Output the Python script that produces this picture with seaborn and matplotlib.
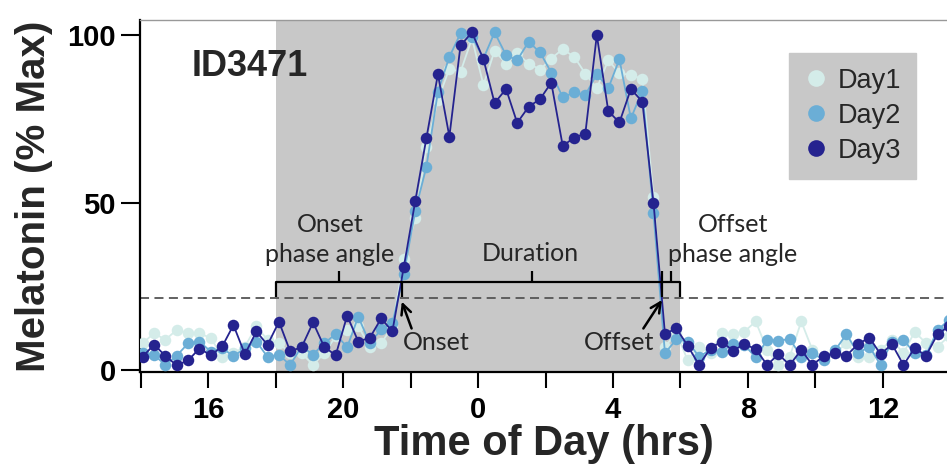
import numpy as np
import pandas as pd
import seaborn as sns
import matplotlib.pyplot as plt
from matplotlib.lines import Line2D

sns.set_theme(style="ticks")
plt.rcParams['font.family'] = ['Liberation Sans', 'DejaVu Sans']

# sampling clock times (hours, >24 = next day)
time_hr = [14.06, 14.40, 14.73, 15.07, 15.41, 15.74, 16.08, 16.42, 16.75, 17.09,
           17.43, 17.76, 18.10, 18.43, 18.77, 19.11, 19.44, 19.78, 20.12, 20.45,
           20.79, 21.13, 21.46, 21.80, 22.14, 22.47, 22.81, 23.15, 23.48, 23.82,
           24.16, 24.49, 24.83, 25.16, 25.50, 25.84, 26.17, 26.51, 26.85, 27.18,
           27.52, 27.86, 28.19, 28.53, 28.87, 29.20, 29.54, 29.88, 30.21, 30.55,
           30.89, 31.22, 31.56, 31.89, 32.23, 32.57, 32.90, 33.24, 33.58, 33.91,
           34.25, 34.59, 34.92, 35.26, 35.60, 35.93, 36.27, 36.61, 36.94, 37.28,
           37.62, 37.95]

day1 = [8.0, 11.0, 9.0, 12.0, 11.0, 11.0, 9.5, 4.0, 5.0, 7.0,
        13.0, 9.0, 8.0, 5.0, 5.0, 1.5, 5.0, 10.0, 12.0, 13.0,
        7.0, 8.0, 13.0, 33.0, 45.3, 66.5, 80.6, 90.0, 89.0, 99.0,
        85.1, 95.3, 91.5, 94.5, 91.5, 89.7, 93.0, 95.8, 93.5, 88.5,
        84.1, 92.5, 88.6, 88.1, 86.9, 51.8, 7.0, 11.0, 3.0, 7.0,
        5.0, 11.0, 10.7, 11.4, 14.5, 6.0, 1.5, 4.0, 14.5, 6.0,
        3.5, 5.0, 8.0, 4.0, 4.0, 6.0, 9.0, 5.0, 11.4, 8.0,
        7.0, 10.0]

day2 = [5.0, 4.5, 1.5, 4.3, 8.0, 8.5, 5.5, 6.5, 4.1, 6.5,
        8.5, 3.9, 4.5, 1.5, 7.0, 4.6, 8.0, 10.7, 6.8, 15.9,
        8.0, 12.1, 14.0, 28.7, 47.6, 60.7, 83.1, 93.5, 100.5, 99.5,
        93.0, 100.8, 94.0, 92.5, 98.0, 94.8, 88.8, 81.4, 82.9, 82.1,
        88.4, 84.1, 92.8, 75.1, 83.4, 46.8, 5.0, 9.2, 8.5, 4.0,
        6.0, 5.5, 7.8, 7.5, 3.8, 9.0, 8.8, 9.2, 4.0, 5.0,
        3.0, 6.0, 10.7, 5.0, 7.0, 1.5, 8.5, 9.0, 5.0, 4.5,
        11.9, 14.9]

day3 = [4.0, 7.6, 4.2, 1.4, 2.9, 6.4, 4.4, 7.1, 13.4, 4.7,
        11.5, 7.5, 14.4, 5.6, 6.8, 14.2, 6.9, 4.4, 16.2, 8.5,
        9.6, 15.4, 11.5, 30.8, 50.5, 69.3, 88.3, 69.7, 96.9, 100.8,
        92.8, 79.7, 83.9, 73.8, 78.6, 80.9, 85.8, 66.9, 69.4, 70.6,
        100.0, 77.3, 73.9, 83.9, 80.1, 50.0, 10.8, 12.4, 7.3, 1.5,
        6.5, 8.5, 5.7, 7.8, 6.2, 1.5, 4.7, 1.5, 6.0, 1.5,
        4.2, 5.0, 4.3, 7.7, 9.7, 4.7, 7.7, 1.5, 6.5, 4.3,
        10.7, 13.0]

series_names = ['Day1', 'Day2', 'Day3']
colors = ['#d4ece9', '#6baed6', '#25238f']

x_ticks = [14, 16, 18, 20, 22, 24, 26, 28, 30, 32, 34, 36]
x_ticklabels = ['', '16', '', '20', '', '0', '', '4', '', '8', '', '12']
y_ticks = [0, 50, 100]
y_ticklabels = ['0', '50', '100']

night_start, night_end = 18.0, 30.0
threshold = 21.6
onset_time = 21.74
offset_time = 29.45

n = len(time_hr)
df = pd.DataFrame({
    'time': time_hr * 3,
    'melatonin': day1 + day2 + day3,
    'day': ['Day1'] * n + ['Day2'] * n + ['Day3'] * n,
})

fig = plt.figure(figsize=(9.47, 4.69), dpi=100)
ax = fig.add_axes([140 / 947, 1 - 372 / 469, (947 - 140) / 947, (372 - 20) / 469])

ax.axvspan(night_start, night_end, color='#c8c8c8', lw=0, zorder=0)
ax.axhline(threshold, color='#555555', lw=1.3, ls=(0, (5, 3)), zorder=1)

sns.lineplot(data=df, x='time', y='melatonin', hue='day', hue_order=series_names,
             palette=dict(zip(series_names, colors)), marker='o', markersize=8.3,
             markeredgewidth=0, linewidth=1.3, legend=False, sort=False,
             errorbar=None, ax=ax, zorder=3)

# braces
bk = dict(color='black', lw=1.6, zorder=4, solid_capstyle='butt')
y_bar, y_end, y_tip = 26.3, 21.9, 29.6
# onset phase angle
ax.plot([night_start, night_start, onset_time, onset_time], [y_end, y_bar, y_bar, y_end], **bk)
ax.plot([(night_start + onset_time) / 2] * 2, [y_bar, y_tip], **bk)
# duration
ax.plot([onset_time, offset_time], [y_bar, y_bar], **bk)
ax.plot([offset_time, offset_time], [y_end, y_tip], **bk)
ax.plot([(onset_time + offset_time) / 2] * 2, [y_bar, y_tip], **bk)
# offset phase angle
ax.plot([offset_time, night_end, night_end], [y_bar, y_bar, y_end], **bk)
ax.plot([(offset_time + night_end) / 2] * 2, [y_bar, y_tip], **bk)

ann_font = ['Lato', 'DejaVu Sans']
ax.text(19.61, 39.0, 'Onset\nphase angle', ha='center', va='center', fontsize=18,
        family=ann_font, linespacing=1.4, zorder=5)
ax.text(25.56, 34.9, 'Duration', ha='center', va='center', fontsize=18,
        family=ann_font, zorder=5)
ax.text(31.56, 39.0, 'Offset\nphase angle', ha='center', va='center', fontsize=18,
        family=ann_font, linespacing=1.4, zorder=5)
ax.text(21.78, 8.1, 'Onset', ha='left', va='center', fontsize=18, family=ann_font, zorder=5)
ax.text(28.17, 8.1, 'Offset', ha='center', va='center', fontsize=18, family=ann_font, zorder=5)

arrow = dict(arrowstyle='->', lw=1.8, color='black', shrinkA=0, shrinkB=0, mutation_scale=18)
ax.annotate('', xy=(onset_time, 20.4), xytext=(22.03, 12.4), arrowprops=arrow, zorder=5)
ax.annotate('', xy=(offset_time, 20.9), xytext=(28.90, 12.4), arrowprops=arrow, zorder=5)

ax.text(15.51, 90.7, 'ID3471', ha='left', va='center', fontsize=26, fontweight='bold', zorder=5)

handles = [Line2D([], [], ls='none', marker='o', markersize=12, markerfacecolor=c,
                  markeredgewidth=0) for c in colors]
leg = ax.legend(handles, series_names, loc='upper left',
                bbox_to_anchor=(789 / 947, 1 - 53 / 469), bbox_transform=fig.transFigure,
                frameon=True, fancybox=False, facecolor='#c8c8c8', edgecolor='#c8c8c8',
                framealpha=1, fontsize=19.5, handlelength=0.9, handletextpad=0.35,
                borderpad=0.55, labelspacing=0.33, borderaxespad=0)
leg.set_zorder(6)

ax.set_xlim(13.98, 37.9)
ax.set_ylim(-0.6, 104.5)
ax.set_xticks(x_ticks)
ax.set_xticklabels(x_ticklabels, fontsize=21, fontweight='bold')
ax.set_yticks(y_ticks)
ax.set_yticklabels(y_ticklabels, fontsize=21, fontweight='bold')
ax.tick_params(axis='x', direction='out', length=11.5, width=1.5, pad=6, colors='black')
ax.tick_params(axis='y', direction='out', length=14, width=1.5, pad=3.5, colors='black')

ax.set_xlabel('Time of Day (hrs)', fontsize=30, fontweight='bold', labelpad=0)
ax.set_ylabel('Melatonin (% Max)', fontsize=29, fontweight='bold', labelpad=10)

ax.spines['right'].set_visible(False)
ax.spines['top'].set_color('#999999')
ax.spines['top'].set_linewidth(1.0)
for s in ['left', 'bottom']:
    ax.spines[s].set_color('black')
    ax.spines[s].set_linewidth(1.6)
ax.set_facecolor('white')
fig.patch.set_facecolor('white')

fig.savefig('out.png', dpi=100)
